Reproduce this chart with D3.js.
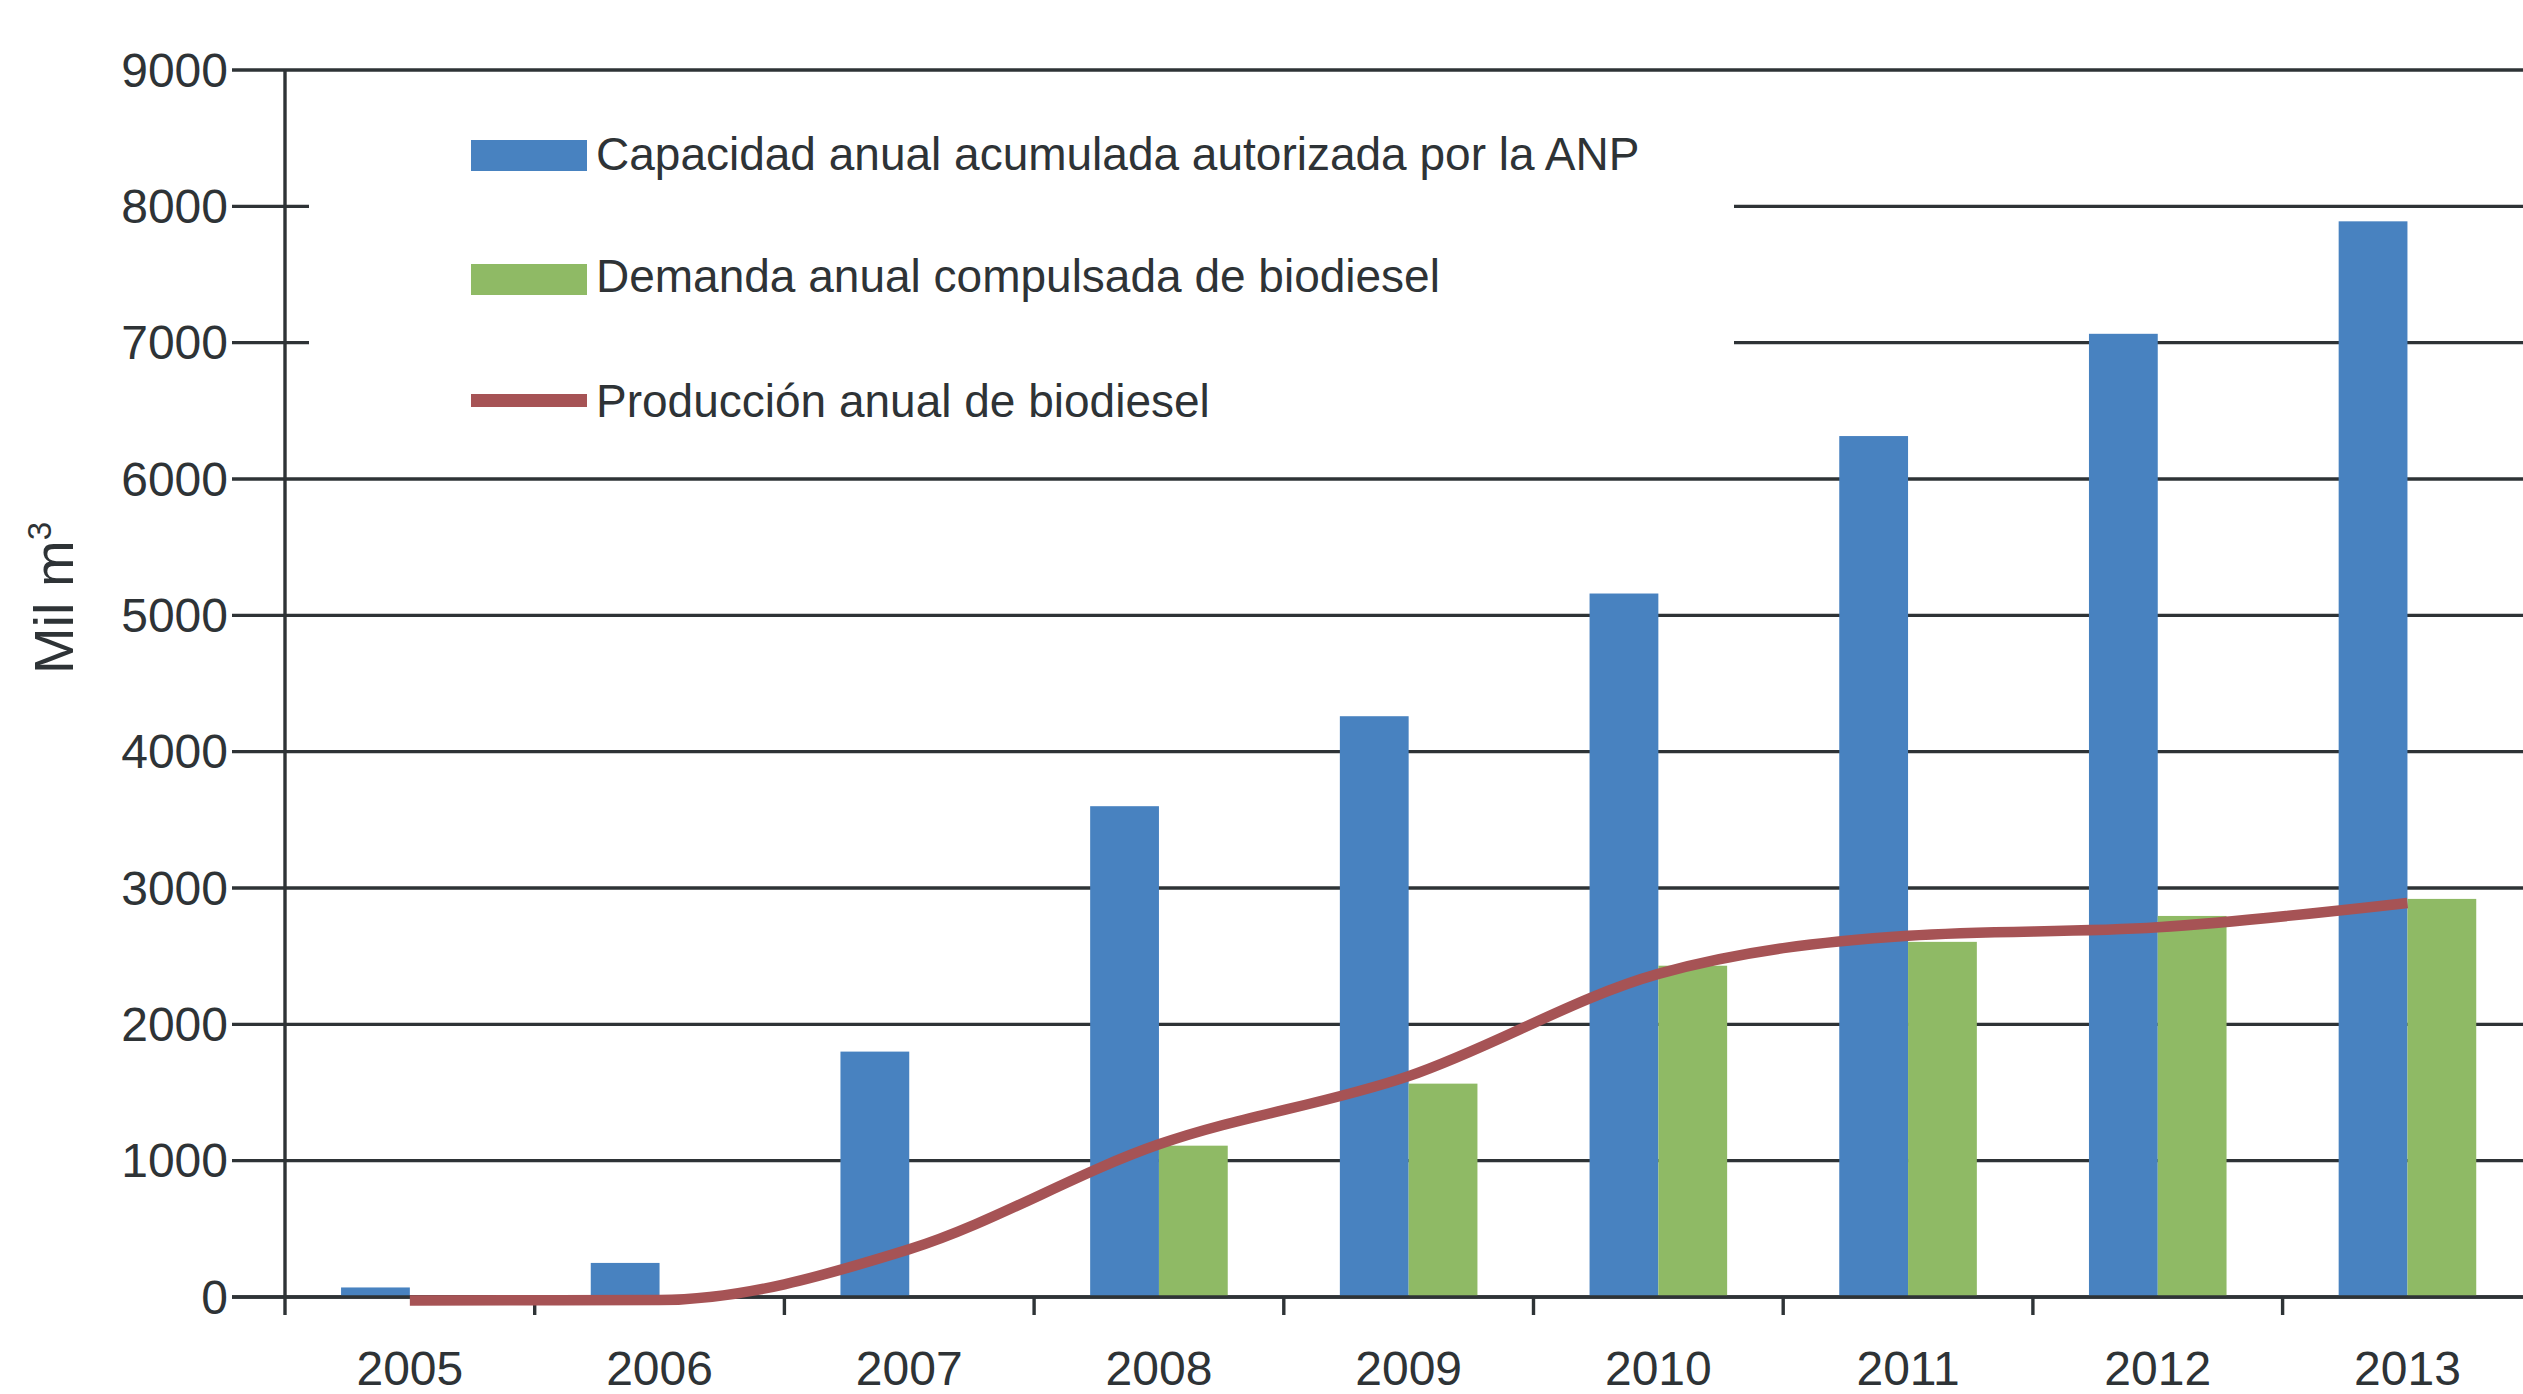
<!DOCTYPE html>
<html>
<head>
<meta charset="utf-8">
<script src="https://cdn.jsdelivr.net/npm/d3@7"></script>
<style>
  html, body { margin: 0; padding: 0; background: #ffffff; }
  svg { display: block; }
  text { font-family: "Liberation Sans", Arial, Helvetica, sans-serif; fill: #2e3336; }
</style>
</head>
<body>
<svg id="chart" width="2523" height="1394"></svg>
<script>
// ---- data ----
const years = ["2005", "2006", "2007", "2008", "2009", "2010", "2011", "2012", "2013"];
const capacidad = [70, 250, 1800, 3600, 4260, 5160, 6315, 7065, 7890];
const demanda = [null, null, null, 1110, 1565, 2430, 2605, 2795, 2920];
const produccion = [-25, -22, 350, 1120, 1620, 2370, 2650, 2712, 2890];
const yTicks = [0, 1000, 2000, 3000, 4000, 5000, 6000, 7000, 8000, 9000];
const seriesNames = [
  "Capacidad anual acumulada autorizada por la ANP",
  "Demanda anual compulsada de biodiesel",
  "Producción anual de biodiesel"
];
const colors = { cap: "#4882c0", dem: "#8fba65", prod: "#a65355", ink: "#2e3336" };

// ---- layout ----
const svg = d3.select("#chart");
const x0 = 285, band = 249.7;
const x = d3.scaleBand().domain(years).range([x0, x0 + band * years.length]).paddingInner(0).paddingOuter(0);
const xs = d3.scaleBand().domain(["cap", "dem"]).range([x.bandwidth() * 0.2245, x.bandwidth() * 0.7755]).padding(0);
const y = d3.scaleLinear().domain([0, 9000]).range([1297, 70]);
const gridLeft = 232, gridRight = 2523, tickLen = 18;

// gridlines
const grid = svg.append("g");
grid.selectAll("line").data(yTicks).join("line")
  .attr("x1", gridLeft).attr("x2", gridRight)
  .attr("y1", d => y(d)).attr("y2", d => y(d))
  .attr("stroke", colors.ink).attr("stroke-width", 3.4);

// legend background (interrupts gridlines)
svg.append("rect").attr("x", 309).attr("y", 110).attr("width", 1734 - 309).attr("height", 330).attr("fill", "#ffffff");

// y tick labels
svg.append("g").selectAll("text").data(yTicks).join("text")
  .attr("x", 228).attr("y", d => y(d)).attr("dy", "0.35em")
  .attr("text-anchor", "end").attr("font-size", 48)
  .text(d => d);

// bars
const bars = svg.append("g");
bars.selectAll("rect.cap").data(years).join("rect").attr("class", "cap")
  .attr("x", d => x(d) + xs("cap")).attr("width", xs.bandwidth())
  .attr("y", (d, i) => y(capacidad[i])).attr("height", (d, i) => y(0) - y(capacidad[i]))
  .attr("fill", colors.cap);
bars.selectAll("rect.dem").data(years.filter((d, i) => demanda[i] != null)).join("rect").attr("class", "dem")
  .attr("x", d => x(d) + xs("dem")).attr("width", xs.bandwidth())
  .attr("y", d => y(demanda[years.indexOf(d)])).attr("height", d => y(0) - y(demanda[years.indexOf(d)]))
  .attr("fill", colors.dem);

// axes
const axes = svg.append("g").attr("stroke", colors.ink).attr("stroke-width", 3.4);
axes.append("line").attr("x1", gridLeft).attr("x2", gridRight).attr("y1", y(0)).attr("y2", y(0));
axes.append("line").attr("x1", x0).attr("x2", x0).attr("y1", y(9000)).attr("y2", y(0) + tickLen);
axes.selectAll("line.xt").data(years.slice(1)).join("line").attr("class", "xt")
  .attr("x1", d => x(d)).attr("x2", d => x(d))
  .attr("y1", y(0)).attr("y2", y(0) + tickLen);

// x labels
svg.append("g").selectAll("text").data(years).join("text")
  .attr("x", d => x(d) + x.bandwidth() / 2).attr("y", 1385)
  .attr("text-anchor", "middle").attr("font-size", 48)
  .text(d => d);

// production line
const line = d3.line()
  .x((d, i) => x(years[i]) + x.bandwidth() / 2)
  .y(d => y(d))
  .curve(d3.curveMonotoneX);
svg.append("path").datum(produccion)
  .attr("d", line).attr("fill", "none")
  .attr("stroke", colors.prod).attr("stroke-width", 10.5).attr("stroke-linecap", "butt").attr("stroke-linejoin", "round");

// legend
const leg = svg.append("g");
const legRows = [155.5, 279.5, 400.5];
leg.append("rect").attr("x", 471).attr("y", legRows[0] - 15.5).attr("width", 116).attr("height", 31).attr("fill", colors.cap);
leg.append("rect").attr("x", 471).attr("y", legRows[1] - 15.5).attr("width", 116).attr("height", 31).attr("fill", colors.dem);
leg.append("rect").attr("x", 471).attr("y", legRows[2] - 6.5).attr("width", 116).attr("height", 13).attr("fill", colors.prod);
leg.selectAll("text").data(seriesNames).join("text")
  .attr("x", 596).attr("y", (d, i) => [170, 292, 417][i])
  .attr("font-size", 46)
  .text(d => d);

// y axis title
const yt = svg.append("text")
  .attr("transform", "translate(73,598) rotate(-90)")
  .attr("text-anchor", "middle").attr("font-size", 56);
yt.append("tspan").text("Mil m");
yt.append("tspan").attr("font-size", 33).attr("dy", -22).text("3");
</script>
</body>
</html>
